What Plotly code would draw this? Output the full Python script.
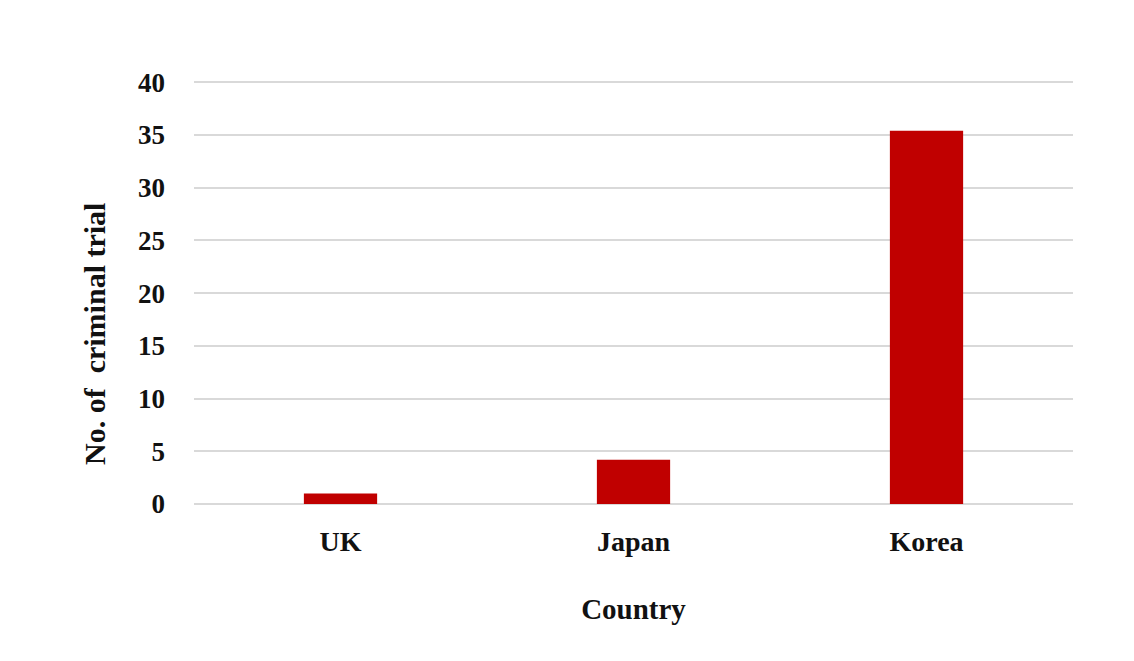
import plotly.graph_objects as go

countries = ["UK", "Japan", "Korea"]
trials = [1, 4.2, 35.4]
y_ticks = [0, 5, 10, 15, 20, 25, 30, 35, 40]

font_family = "Liberation Serif"

fig = go.Figure(
    go.Bar(
        x=countries,
        y=trials,
        marker=dict(color="#c00000", line=dict(width=0)),
        width=0.25,
    )
)

fig.update_layout(
    width=1126,
    height=653,
    margin=dict(l=186, r=61, t=72, b=157, autoexpand=False),
    paper_bgcolor="white",
    plot_bgcolor="white",
    font=dict(family=font_family, size=26, color="#111111"),
    showlegend=False,
)

fig.update_xaxes(
    title=dict(text="<b>Country</b>", font=dict(family=font_family, size=29), standoff=42),
    tickfont=dict(family=font_family, size=28),
    ticklabelstandoff=18,
    showline=False,
    showgrid=False,
    tickprefix="<b>",
    ticksuffix="</b>",
)

fig.update_yaxes(
    range=[0, 40.2],
    tickvals=y_ticks,
    ticktext=[f"<b>{v}</b>" for v in y_ticks],
    tickfont=dict(family=font_family, size=27),
    ticklabelstandoff=28,
    showgrid=True,
    gridcolor="#d9d9d9",
    gridwidth=2,
    zeroline=True,
    zerolinecolor="#d9d9d9",
    zerolinewidth=2,
    showline=False,
)

fig.add_annotation(
    text="<b>No. of  criminal trial</b>",
    xref="paper",
    yref="paper",
    x=-0.1126,
    y=0.401,
    xanchor="center",
    yanchor="middle",
    textangle=-90,
    showarrow=False,
    font=dict(family=font_family, size=30, color="#111111"),
)

fig.write_html("out.html")
